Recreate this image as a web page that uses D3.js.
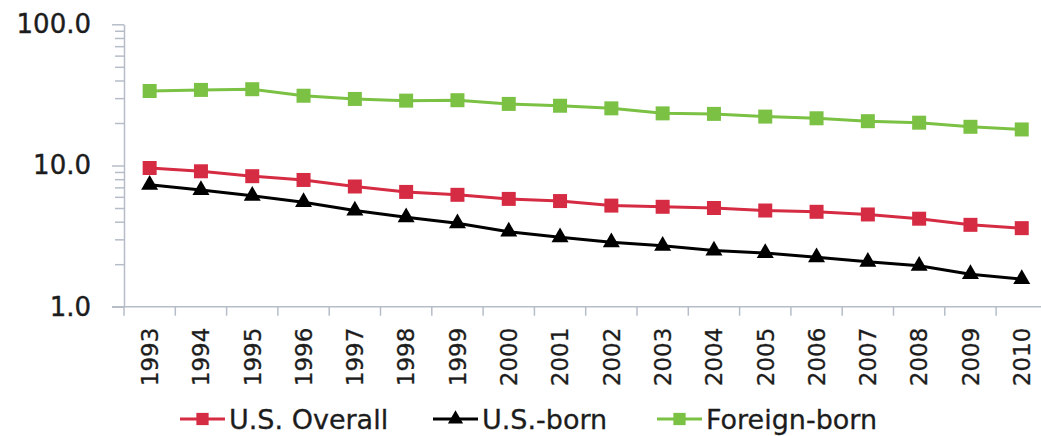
<!DOCTYPE html>
<html lang="en">
<head>
    <meta charset="UTF-8">
    <title>U.S. Overall / U.S.-born / Foreign-born</title>
    <script src="https://d3js.org/d3.v7.min.js"></script>
    <style>
        body { margin: 0; background: #fff; }
        svg { display: block; }
        .axis path, .axis line { stroke: #b6bdc8; stroke-width: 1.5; }
        .ylab text { font-family: "DejaVu Sans", sans-serif; font-size: 26px; fill: #1c1c1c; stroke: #1c1c1c; stroke-width: 0.4; }
        .xlab text { font-family: "DejaVu Sans", sans-serif; font-size: 23px; fill: #1c1c1c; stroke: #1c1c1c; stroke-width: 0.3; }
        .legend text { font-family: "DejaVu Sans", sans-serif; font-size: 27px; fill: #1c1c1c; stroke: #1c1c1c; stroke-width: 0.3; }
    </style>
</head>
<body>
    <svg id="chart" width="1041" height="436"></svg>

    <script>
        // data
        const years = ["1993", "1994", "1995", "1996", "1997", "1998", "1999", "2000", "2001",
                       "2002", "2003", "2004", "2005", "2006", "2007", "2008", "2009", "2010"];
        const usOverall = [9.6, 9.1, 8.4, 7.9, 7.1, 6.5, 6.2, 5.8, 5.6, 5.2, 5.1, 5.0, 4.8, 4.7, 4.5, 4.2, 3.8, 3.6];
        const usBorn = [7.3, 6.7, 6.1, 5.5, 4.8, 4.3, 3.9, 3.4, 3.1, 2.86, 2.7, 2.5, 2.4, 2.24, 2.08, 1.95, 1.70, 1.57];
        const foreignBorn = [33.7, 34.3, 34.7, 31.2, 29.6, 28.8, 29.0, 27.3, 26.5, 25.4, 23.4, 23.2, 22.2, 21.6, 20.6, 20.1, 18.8, 18.0];
        const yMajor = [1, 10, 100];

        const series = [
            { name: "U.S. Overall", values: usOverall, color: "#d52b43", symbol: d3.symbolSquare, size: 196 },
            { name: "U.S.-born", values: usBorn, color: "#000000", symbol: d3.symbolTriangle, size: 125 },
            { name: "Foreign-born", values: foreignBorn, color: "#7bc144", symbol: d3.symbolSquare, size: 196 }
        ];

        const svg = d3.select("#chart");

        const plotLeft = 124, plotBottom = 306.7, plotTop = 24.3;
        const band = 51.3;

        const x = d3.scaleBand()
            .domain(years)
            .range([plotLeft, plotLeft + band * years.length]);

        const y = d3.scaleLog()
            .domain([1, 100])
            .range([plotBottom, plotTop]);

        // minor ticks
        const yMinor = [];
        [1, 10].forEach(b => { for (let i = 2; i <= 9; i++) yMinor.push(b * i); });

        svg.append("g")
            .attr("class", "axis")
            .attr("transform", `translate(${plotLeft},0)`)
            .call(d3.axisLeft(y).tickValues(yMinor).tickSize(9).tickSizeOuter(0).tickFormat(""));

        svg.append("g")
            .attr("class", "axis ylab")
            .attr("transform", `translate(${plotLeft},0)`)
            .call(d3.axisLeft(y).tickValues(yMajor).tickSize(12).tickSizeOuter(0).tickPadding(21)
                .tickFormat(d3.format(".1f")))
            .call(g => g.select(".domain").remove());

        // x axis line + boundary ticks
        const xg = svg.append("g").attr("class", "axis");
        xg.append("line")
            .attr("x1", plotLeft - 12).attr("x2", 1041)
            .attr("y1", plotBottom).attr("y2", plotBottom);
        xg.selectAll(".bt")
            .data(years)
            .enter()
            .append("line")
            .attr("class", "bt")
            .attr("x1", d => x(d)).attr("x2", d => x(d))
            .attr("y1", plotBottom).attr("y2", plotBottom + 9);

        // year labels
        svg.append("g")
            .attr("class", "xlab")
            .attr("transform", `translate(0,${plotBottom})`)
            .call(d3.axisBottom(x).tickSize(0).tickSizeOuter(0))
            .call(g => g.select(".domain").remove())
            .selectAll("text")
            .attr("transform", "rotate(-90)")
            .attr("text-anchor", "end")
            .attr("x", -21)
            .attr("y", 0)
            .attr("dy", "0.36em");

        // lines + markers
        const line = d3.line()
            .x((d, i) => x(years[i]) + x.bandwidth() / 2)
            .y(d => y(d));

        series.forEach(s => {
            svg.append("path")
                .datum(s.values)
                .attr("fill", "none")
                .attr("stroke", s.color)
                .attr("stroke-width", 3)
                .attr("d", line);

            svg.selectAll(null)
                .data(s.values)
                .enter()
                .append("path")
                .attr("d", d3.symbol().type(s.symbol).size(s.size))
                .attr("fill", s.color)
                .attr("transform", (d, i) => `translate(${x(years[i]) + x.bandwidth() / 2},${y(d)})`);
        });

        // legend
        const legendX = [180, 433, 657];
        const legend = svg.append("g").attr("class", "legend");
        series.forEach((s, i) => {
            const g = legend.append("g").attr("transform", `translate(${legendX[i]},419)`);
            g.append("line")
                .attr("x1", 0).attr("x2", 45)
                .attr("stroke", s.color).attr("stroke-width", 3);
            g.append("path")
                .attr("d", d3.symbol().type(s.symbol).size(s.symbol === d3.symbolSquare ? 150 : 100))
                .attr("fill", s.color)
                .attr("transform", "translate(22.5,0)");
            g.append("text")
                .attr("x", 49)
                .attr("y", 10)
                .text(s.name);
        });
    </script>
</body>
</html>
